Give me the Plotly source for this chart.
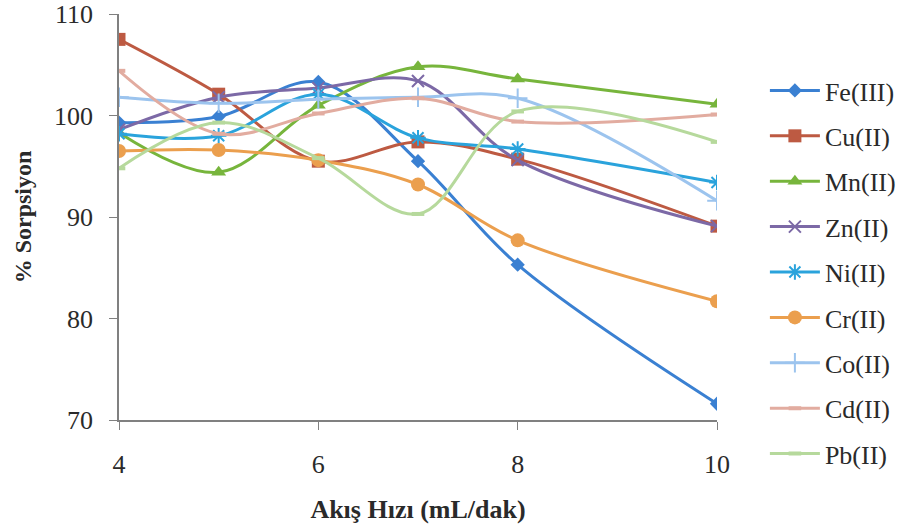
import plotly.graph_objects as go

# Flow rate (mL/dak)
flow_rate = [4, 5, 6, 7, 8, 10]

# % sorption for each metal ion
fe = [99.3, 99.9, 103.3, 95.5, 85.3, 71.6]
cu = [107.5, 102.1, 95.5, 97.4, 95.7, 89.1]
mn = [98.3, 94.4, 101.0, 104.8, 103.6, 101.1]
zn = [98.6, 101.8, 102.7, 103.4, 95.6, 89.1]
ni = [98.2, 98.0, 102.1, 97.8, 96.7, 93.4]
cr = [96.5, 96.6, 95.6, 93.2, 87.7, 81.7]
co = [101.8, 101.2, 101.6, 101.8, 101.7, 91.6]
cd = [104.4, 98.2, 100.2, 101.7, 99.4, 100.1]
pb = [94.8, 99.3, 95.8, 90.3, 100.4, 97.4]

series_names = ["Fe(III)", "Cu(II)", "Mn(II)", "Zn(II)", "Ni(II)",
                "Cr(II)", "Co(II)", "Cd(II)", "Pb(II)"]
series_values = [fe, cu, mn, zn, ni, cr, co, cd, pb]
colors = ["#3a80d2", "#bd5a42", "#77b53c", "#7c69a6", "#2aa3dc",
          "#eb9f4e", "#9cc4ee", "#e2aca0", "#b6d99c"]
symbols = ["diamond", "square", "triangle-up", "x-thin-open", "asterisk-open",
           "circle", "cross-thin-open", "line-ew-open", "line-ew-open"]
sizes = [11, 13, 13, 12, 13, 14, 14, 9, 9]

serif = "Liberation Serif, Times New Roman, serif"
text_color = "#2a2a2a"

# the legend column is split into three stacked blocks of three entries
legend_ids = ["legend", "legend2", "legend3"]
legend_tops = [0.874, 0.618, 0.362]

fig = go.Figure()
for i, (name, vals, col, sym, sz) in enumerate(zip(series_names, series_values, colors, symbols, sizes)):
    open_marker = sym.endswith("-open")
    fig.add_trace(go.Scatter(
        x=flow_rate, y=vals, name=name, legendgroup=name,
        legend=legend_ids[i // 3],
        mode="lines+markers",
        line=dict(color=col, width=3, shape="spline", smoothing=1.0),
        marker=dict(symbol=sym, size=sz, color=col,
                    line=dict(color=col, width=4 if sym.startswith("line") else (2 if open_marker else 0))),
    ))

legend_style = dict(xref="container", yref="container", x=0.848,
                    xanchor="left", yanchor="top",
                    font=dict(family=serif, size=26, color=text_color),
                    tracegroupgap=8.6, itemwidth=50, bgcolor="rgba(0,0,0,0)")

fig.update_layout(
    width=902, height=532,
    margin=dict(l=119, r=185, t=14, b=112),
    paper_bgcolor="white", plot_bgcolor="white",
    font=dict(family=serif, size=24, color=text_color),
    showlegend=True,
    legend=dict(y=legend_tops[0], **legend_style),
    legend2=dict(y=legend_tops[1], **legend_style),
    legend3=dict(y=legend_tops[2], **legend_style),
    xaxis=dict(range=[4, 10], tickvals=[4, 6, 8, 10], ticktext=["4", "6", "8", "10"],
               automargin=False,
               showgrid=False, zeroline=False, showline=True, linecolor="#808080", linewidth=1.5,
               ticks="outside", ticklen=8, tickcolor="#808080", ticklabelstandoff=12,
               tickfont=dict(family=serif, size=26, color=text_color),
               title=dict(text="<b>Akış Hızı (mL/dak)</b>", standoff=22,
                          font=dict(family=serif, size=26, color=text_color))),
    yaxis=dict(range=[70, 110], tickvals=[70, 80, 90, 100, 110],
               automargin=False,
               showgrid=False, zeroline=False, showline=True, linecolor="#808080", linewidth=1.5,
               ticks="outside", ticklen=8, tickcolor="#808080", ticklabelstandoff=11,
               tickfont=dict(family=serif, size=26, color=text_color),
               title=dict(text="<b>% Sorpsiyon</b>", standoff=16,
                          font=dict(family=serif, size=24, color=text_color))),
)

fig.write_html("out.html")
